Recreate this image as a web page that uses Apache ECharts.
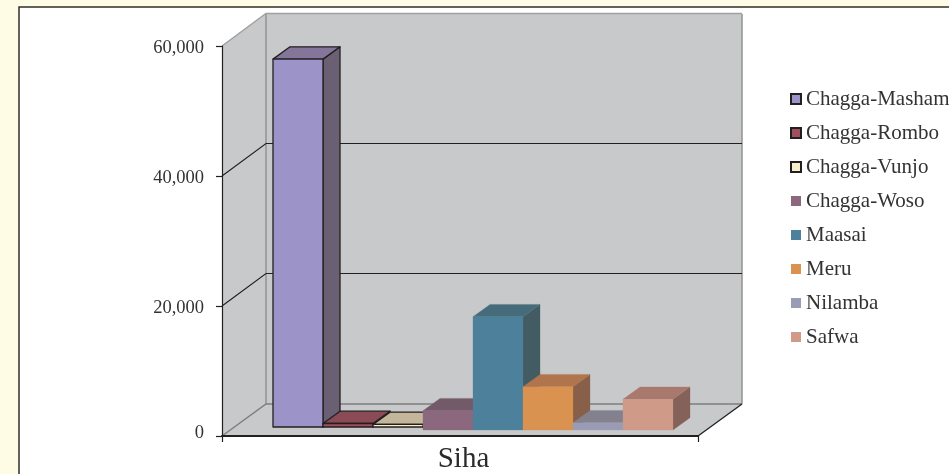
<!DOCTYPE html>
<html>
<head>
<meta charset="utf-8">
<style>html,body{margin:0;padding:0;background:#FFFCE6;overflow:hidden}#c{width:949px;height:474px}</style>
<script src="https://cdn.jsdelivr.net/npm/echarts@6/dist/echarts.min.js"></script>
</head>
<body>
<div id="c"></div>
<script>
const categories = ['Siha'];
const seriesNames = ['Chagga-Masham','Chagga-Rombo','Chagga-Vunjo','Chagga-Woso','Maasai','Meru','Nilamba','Safwa'];
const seriesValues = [56600, 540, 400, 2970, 17430, 6660, 1120, 4720];
const yTicks = [0, 20000, 40000, 60000];
const frontColors = ['#9C94C8','#A04F5C','#F7F0C8','#8B687D','#4D809B','#D99250','#9A9CB5','#CF9A87'];
const topColors   = ['#84759A','#8A4A56','#C3B69A','#735A68','#466C7B','#B0754C','#84818F','#A8796C'];
const sideColors  = ['#6B5F73','#70404A','#A89C80','#5E4A56','#435C63','#885F49','#6E6C78','#84625A'];
const outlined    = [true,true,true,false,false,false,false,false];

const font = '"Liberation Serif", serif';
const depth = {x: 44, y: -32};
const barDepth = {x: 17, y: -12.3};
const barWidthRatio = 50 / 476;
const leftPadRatio = 51 / 476;
const lineDark = '#231F20';
const wallGrey = '#C8C9CB';

function renderWall(params, api) {
  const v = api.value(1);
  const band = api.size([1, 0])[0];
  const cx = api.coord([0, 0])[0];
  const x0 = cx - band / 2, x1 = cx + band / 2;
  const yv = api.coord([0, v])[1];
  const y0 = api.coord([0, yTicks[0]])[1];
  const yt = api.coord([0, yTicks[yTicks.length - 1]])[1];
  const bx0 = x0 + depth.x, bx1 = x1 + depth.x;
  const children = [];
  if (params.dataIndex === 0) {
    const poly = (pts, fill) => ({type:'polygon', shape:{points:pts}, style:{fill:fill, stroke:null}});
    const ln = (pts, c, w) => ({type:'polyline', shape:{points:pts}, style:{fill:null, stroke:c, lineWidth:w}});
    children.push(
      poly([[x0,yt],[bx0,yt+depth.y],[bx0,y0+depth.y],[x0,y0]], wallGrey),
      poly([[bx0,yt+depth.y],[bx1,yt+depth.y],[bx1,y0+depth.y],[bx0,y0+depth.y]], wallGrey),
      poly([[x0,y0],[x1,y0],[bx1,y0+depth.y],[bx0,y0+depth.y]], wallGrey),
      ln([[bx0,yt+depth.y],[bx0,y0+depth.y]], '#929292', 1.5),
      ln([[bx1,yt+depth.y],[bx1,y0+depth.y]], '#929292', 1.5),
      ln([[x0,y0],[bx0,y0+depth.y],[bx1,y0+depth.y]], '#7E7E7E', 1.5),
      ln([[x1,y0],[bx1,y0+depth.y]], lineDark, 1.2)
    );
  } else {
    const top = v === yTicks[yTicks.length - 1];
    const yb = yv + depth.y - 0.5;
    children.push({type:'polyline', shape:{points:[[x0,yv],[bx0,yb],[bx1,yb]]},
      style:{fill:null, stroke: top ? '#A0A0A0' : lineDark, lineWidth: top ? 1.5 : 1.1}});
  }
  return {type:'group', children};
}

function makeBarRenderer(i) {
  return function (params, api) {
    const band = api.size([1, 0])[0];
    const base = api.coord([0, 0]);
    const top = api.coord([0, api.value(1)]);
    const w = band * barWidthRatio;
    const lift = outlined[i] ? 9 : 6;
    const xl = base[0] - band / 2 + band * leftPadRatio + i * w;
    const xr = xl + w;
    const yb = base[1] - lift;
    const yt = top[1] - lift;
    const dx = barDepth.x, dy = barDepth.y;
    const st = (fill) => ({
      fill,
      stroke: outlined[i] ? lineDark : fill,
      lineWidth: outlined[i] ? 1.3 : 0.3,
      lineJoin: 'round'
    });
    return {type:'group', children:[
      {type:'polygon', shape:{points:[[xr,yt],[xr+dx,yt+dy],[xr+dx,yb+dy],[xr,yb]]}, style:st(sideColors[i])},
      {type:'polygon', shape:{points:[[xl,yt],[xl+dx,yt+dy],[xr+dx,yt+dy],[xr,yt]]}, style:st(topColors[i])},
      {type:'polygon', shape:{points:[[xl,yt],[xr,yt],[xr,yb],[xl,yb]]}, style:st(frontColors[i])}
    ]};
  };
}

const barSeries = seriesNames.map((name, i) => ({
  name,
  type: 'custom',
  z: 3 + i,
  coordinateSystem: 'cartesian2d',
  renderItem: makeBarRenderer(i),
  encode: {x: 0, y: 1},
  itemStyle: {
    color: frontColors[i],
    borderColor: outlined[i] ? lineDark : frontColors[i],
    borderWidth: outlined[i] ? 1.5 : 0
  },
  data: [[categories[0], seriesValues[i]]]
}));

const chart = echarts.init(document.getElementById('c'), null, {renderer:'canvas'});
chart.setOption({
  animation: false,
  backgroundColor: '#FFFCE6',
  textStyle: {fontFamily: font},
  graphic: [{
    type: 'rect', z: -10, silent: true,
    shape: {x: 19, y: 7, width: 1100, height: 700},
    style: {fill: '#FFFFFF', stroke: '#2E2E2A', lineWidth: 1.5}
  }],
  grid: {left: 222, top: 46, width: 476, height: 390, containLabel: false, outerBoundsMode: 'none'},
  xAxis: {
    type: 'category', data: categories, z: 30,
    axisLine: {lineStyle: {color: lineDark, width: 2}},
    axisTick: {show: true, length: 6, lineStyle: {color: lineDark, width: 1.2}},
    axisLabel: {fontFamily: font, fontSize: 29, color: '#2B2B2B', margin: 9, padding: [0,0,0,7]}
  },
  yAxis: {
    type: 'value', min: 0, max: 60000, interval: 20000, z: 30,
    axisLine: {show: true, lineStyle: {color: lineDark, width: 1.2}},
    axisTick: {show: true, length: 6, lineStyle: {color: lineDark, width: 1.2}},
    splitLine: {show: false},
    axisLabel: {fontFamily: font, fontSize: 18.5, color: '#333', margin: 18, padding: [5,0,0,0],
      formatter: v => v === 0 ? '{z|0}' : v.toLocaleString('en-US'),
      rich: {z: {fontFamily: font, fontSize: 18.5, color: '#333', padding: [0,0,11,0]}}}
  },
  legend: {
    orient: 'vertical', left: 790, top: 88.5, padding: 0,
    itemWidth: 10, itemHeight: 10, itemGap: 13, icon: 'rect',
    data: seriesNames,
    textStyle: {fontFamily: font, fontSize: 21, color: '#333'},
    selectedMode: false
  },
  series: [{
    type: 'custom', name: 'walls', z: 1, silent: true, tooltip: {show:false},
    renderItem: renderWall, encode: {x: 0, y: 1},
    data: yTicks.map(t => [categories[0], t])
  }].concat(barSeries)
});
</script>
</body>
</html>
